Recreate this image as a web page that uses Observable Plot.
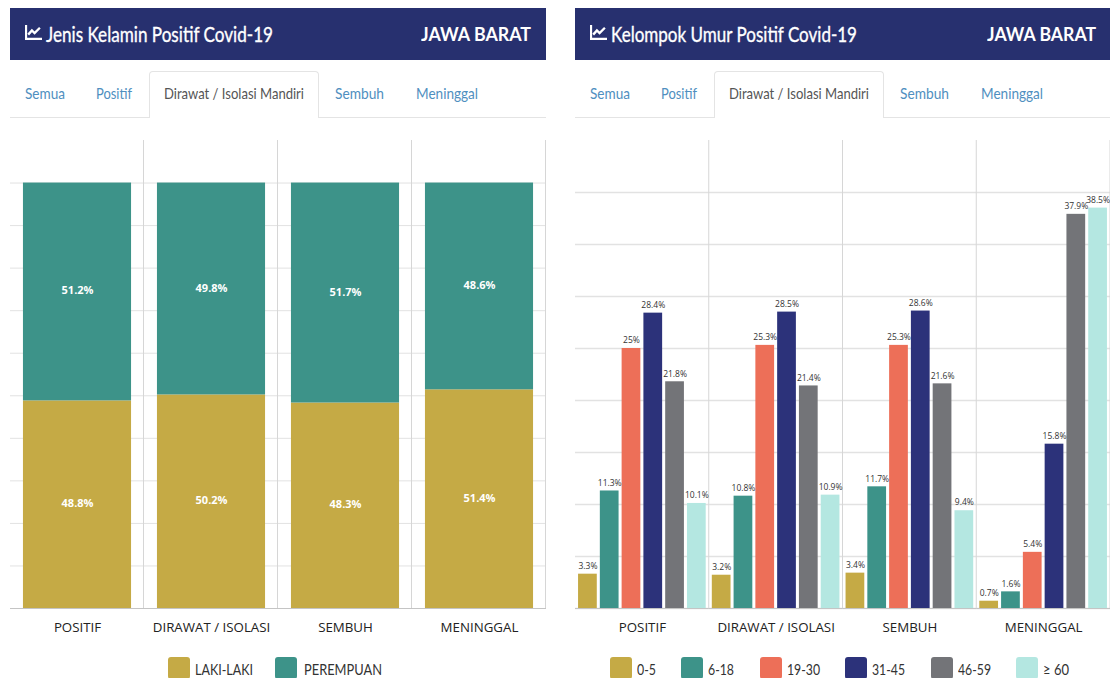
<!DOCTYPE html>
<html><head><meta charset="utf-8">
<script src="https://cdn.jsdelivr.net/npm/d3@7"></script>
<script src="https://cdn.jsdelivr.net/npm/@observablehq/plot@0.6"></script>
<style>
html,body{margin:0;padding:0;background:#fff}
#page{position:relative;width:1110px;height:678px;overflow:hidden;font-family:Lato,sans-serif}
#page>*{position:absolute}
.fit{white-space:nowrap;transform-origin:0 50%;line-height:1}
.swatch{border-radius:3px}
svg{display:block}
</style></head><body><div id="page"></div>
<script>
// ---------- chart values ----------
const categories = ["POSITIF", "DIRAWAT / ISOLASI", "SEMBUH", "MENINGGAL"];
const genders = ["LAKI-LAKI", "PEREMPUAN"];
const male = [48.8, 50.2, 48.3, 51.4];
const female = [51.2, 49.8, 51.7, 48.6];
const ageGroups = ["0-5", "6-18", "19-30", "31-45", "46-59", "≥ 60"];
const agePositif = [3.3, 11.3, 25, 28.4, 21.8, 10.1];
const ageDirawat = [3.2, 10.8, 25.3, 28.5, 21.4, 10.9];
const ageSembuh = [3.4, 11.7, 25.3, 28.6, 21.6, 9.4];
const ageMeninggal = [0.7, 1.6, 5.4, 15.8, 37.9, 38.5];
const genderColors = ["#c5aa45", "#3d9389"];
const ageColors = ["#c5aa45", "#3d9389", "#ed6f58", "#2c327a", "#737478", "#b4e7e1"];
const tabs = ["Semua", "Positif", "Dirawat / Isolasi Mandiri", "Sembuh", "Meninggal"];

const genderRows = categories.flatMap((c, i) => [
  {cat: c, group: genders[0], value: male[i]},
  {cat: c, group: genders[1], value: female[i]}
]);
const ageRows = [agePositif, ageDirawat, ageSembuh, ageMeninggal].flatMap((vals, i) =>
  vals.map((v, j) => ({cat: categories[i], group: ageGroups[j], value: v})));

const page = document.getElementById("page");
function box(x, y, w, h, css) {
  const d = document.createElement("div");
  d.style.cssText = `left:${x}px;top:${y}px;width:${w}px;height:${h}px;${css || ""}`;
  page.appendChild(d);
  return d;
}
// text squeezed to the reference's measured width
function fit(text, x, yc, w, size, color, weight, extra) {
  const s = document.createElement("div");
  s.className = "fit";
  s.textContent = text;
  s.style.cssText = `left:${x}px;top:${yc - size / 2}px;font-size:${size}px;color:${color};font-weight:${weight || 400};${extra || ""}`;
  page.appendChild(s);
  s.style.transform = `scaleX(${w / s.getBoundingClientRect().width})`;
}
function icon(x, y) {
  const ns = "http://www.w3.org/2000/svg";
  const g = document.createElementNS(ns, "svg");
  g.setAttribute("viewBox", "0 0 16 14");
  g.setAttribute("width", 17); g.setAttribute("height", 15);
  g.style.cssText = `left:${x}px;top:${y}px`;
  g.innerHTML = '<path d="M1 0V13H16" fill="none" stroke="#fff" stroke-width="2"/><path d="M3 9L6.5 5L9 7.5L14 2.5" fill="none" stroke="#fff" stroke-width="2.2"/>';
  page.appendChild(g);
}
function panel(px, title, titleW, regionX, regionW, tabX) {
  box(px, 8, 536, 52, "background:#27306f");
  icon(px + 15, 25);
  fit(title, px + 36, 33, titleW, 21, "#fff", 400, "-webkit-text-stroke:.35px #fff");
  fit("JAWA BARAT", regionX, 33, regionW, 19, "#fff", 700);
  box(px, 117, 536, 1, "background:#e4e4e4");
  box(px + 139, 71, 168, 46, "background:#fff;border:1px solid #e4e4e4;border-bottom:none;border-radius:4px 4px 0 0;box-sizing:content-box");
  const tw = [40, 36, 140, 49, 62];
  tabs.forEach((t, i) => fit(t, px + tabX[i], 93, tw[i], 16, i === 2 ? "#555" : "#4f8fc0", 400));
}
panel(10, "Jenis Kelamin Positif Covid-19", 227, 421, 110, [15, 86, 154, 325, 406]);
panel(575, "Kelompok Umur Positif Covid-19", 246, 987, 109, [15, 86, 154, 325, 406]);

function place(plot, x, y) {
  plot.style.left = x + "px"; plot.style.top = y + "px";
  page.appendChild(plot);
}
const common = {
  height: 530, marginTop: 10, marginBottom: 52, marginLeft: 0, marginRight: 0,
  style: {background: "transparent", fontFamily: "'Open Sans',sans-serif", overflow: "visible"}
};
const gridH = "#e2e2e2", gridV = "#d6d6d6";
const fxAxis = () => Plot.axisFx({anchor: "bottom", label: null, tickSize: 0, tickPadding: 14, fontSize: 13.3, color: "#222"});

place(Plot.plot({
  ...common, width: 536,
  fx: {domain: categories, padding: 0, axis: null, round: false},
  x: {axis: null, padding: 0.107, round: false},
  y: {domain: [0, 110], axis: null},
  color: {domain: genders, range: genderColors},
  marks: [
    Plot.ruleY(d3.range(0, 101, 10), {stroke: gridH}),
    Plot.frame({anchor: "right", stroke: gridV, dx: -1}),
    Plot.barY(genderRows, Plot.stackY({fx: "cat", x: () => "all", y: "value", fill: "group"})),
    Plot.text(genderRows, Plot.stackY({fx: "cat", x: () => "all", y: "value", z: "group", text: d => d.value + "%", fill: "#fff", fontWeight: 700, fontSize: 11, dy: -1})),
    Plot.ruleY([0], {stroke: "#c4c4c4"}),
    fxAxis()
  ]
}), 10, 129.5);

place(Plot.plot({
  ...common, width: 535,
  fx: {domain: categories, padding: 0, axis: null, round: false},
  x: {domain: ageGroups, axis: null, padding: 0.14, round: false},
  y: {domain: [0, 45], axis: null},
  color: {domain: ageGroups, range: ageColors},
  marks: [
    Plot.ruleY(d3.range(0, 41, 5), {stroke: gridH, strokeWidth: 1.4}),
    Plot.frame({anchor: "right", stroke: gridV, dx: -0.5}),
    Plot.barY(ageRows, {fx: "cat", x: "group", y: "value", fill: "group"}),
    Plot.text(ageRows, {fx: "cat", x: "group", y: "value", text: d => d.value + "%", dy: -8, fontSize: 8.5, fill: "#333"}),
    Plot.ruleY([0], {stroke: "#c4c4c4"}),
    fxAxis()
  ]
}), 575, 129.5);

function legend(names, colors, squares, texts, widths) {
  names.forEach((n, i) => {
    box(squares[i], 657, 22, 22, `background:${colors[i]}`).className = "swatch";
    fit(n, texts[i], 669, widths[i], 15, "#333", 400);
  });
}
legend(genders, genderColors, [168, 275], [195, 304], [58, 78]);
legend(ageGroups, ageColors, [610, 681, 760, 845, 931, 1016], [637, 708, 787, 872, 958, 1043], [19, 26, 33, 33, 33, 26]);
</script></body></html>
